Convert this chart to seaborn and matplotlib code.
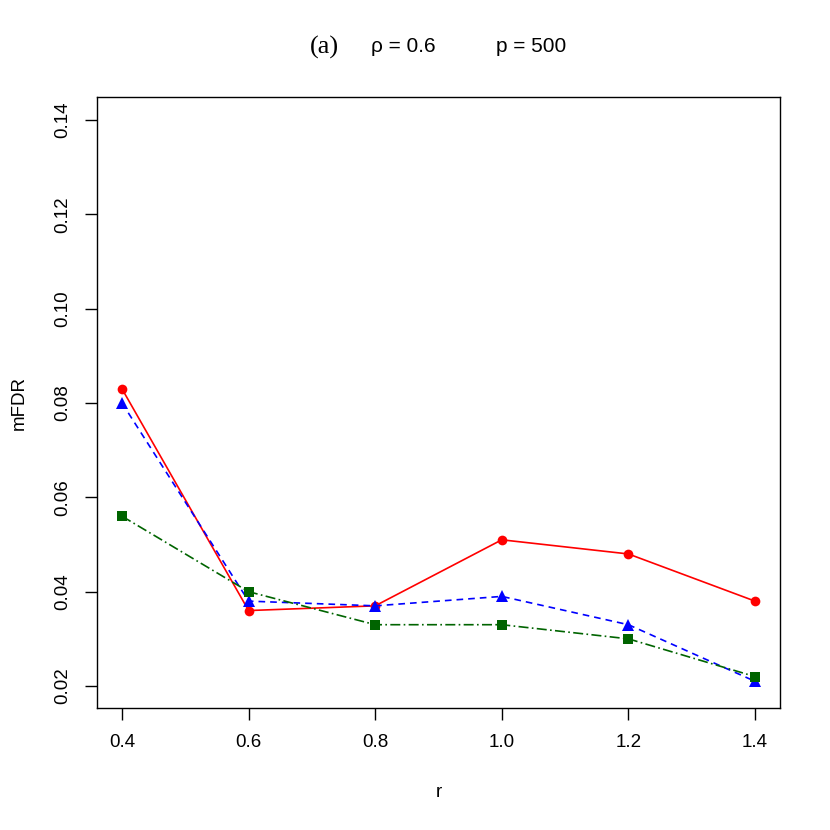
import matplotlib
matplotlib.use("Agg")
import matplotlib.pyplot as plt
import seaborn as sns
import pandas as pd

r_vals = [0.4, 0.6, 0.8, 1.0, 1.2, 1.4]
red_vals = [0.083, 0.036, 0.037, 0.051, 0.048, 0.038]
blue_vals = [0.080, 0.038, 0.037, 0.039, 0.033, 0.021]
green_vals = [0.056, 0.040, 0.033, 0.033, 0.030, 0.022]
x_ticks = [0.4, 0.6, 0.8, 1.0, 1.2, 1.4]
y_ticks = [0.02, 0.04, 0.06, 0.08, 0.10, 0.12, 0.14]

sns.set_theme(style="white")
plt.rcParams['font.family'] = ['Liberation Sans', 'DejaVu Sans']
plt.rcParams['text.color'] = 'black'
plt.rcParams['axes.labelcolor'] = 'black'
plt.rcParams['xtick.color'] = 'black'
plt.rcParams['ytick.color'] = 'black'

fig = plt.figure(figsize=(8.3, 8.3), dpi=100)
ax = fig.add_axes([97/830, 1-708/830, (780-97)/830, (708-97)/830])

series = [
    (red_vals, "red", "-", "o", 7),
    (blue_vals, "blue", (0, (4, 3)), "^", 8.5),
    (green_vals, "#006400", (0, (6, 2, 1, 2)), "s", 7),
]
for vals, col, ls, mk, ms in series:
    df = pd.DataFrame({"r": r_vals, "v": vals})
    sns.lineplot(data=df, x="r", y="v", ax=ax, color=col, linewidth=1.2,
                 linestyle=ls, marker=mk, markersize=ms, markeredgewidth=0,
                 markerfacecolor=col)

ax.set_xlim(0.3605, 1.4395)
ax.set_ylim(0.01534, 0.14488)
ax.set_xticks(x_ticks)
ax.set_xticklabels([f"{v:.1f}" for v in x_ticks], fontsize=13.5)
ax.set_yticks(y_ticks)
ax.set_yticklabels([f"{v:.2f}" for v in y_ticks], fontsize=13.5, rotation=90, va="center")
ax.tick_params(axis="both", direction="out", length=8.5, width=1,
               bottom=True, left=True, pad=10)
for s in ax.spines.values():
    s.set_color("black")
    s.set_linewidth(1)
ax.set_xlabel("r", fontsize=13.5, labelpad=24)
ax.set_ylabel("mFDR", fontsize=13.5, labelpad=19)

fig.text(324/830, 1-47/830, "(a)", fontsize=19, family=["Liberation Serif", "DejaVu Serif"],
         ha="center", va="center")
fig.text(403/830, 1-47/830, "ρ = 0.6", fontsize=15, ha="center", va="center")
fig.text(531/830, 1-47/830, "p = 500", fontsize=15, ha="center", va="center")

fig.savefig("out.png", dpi=100)
